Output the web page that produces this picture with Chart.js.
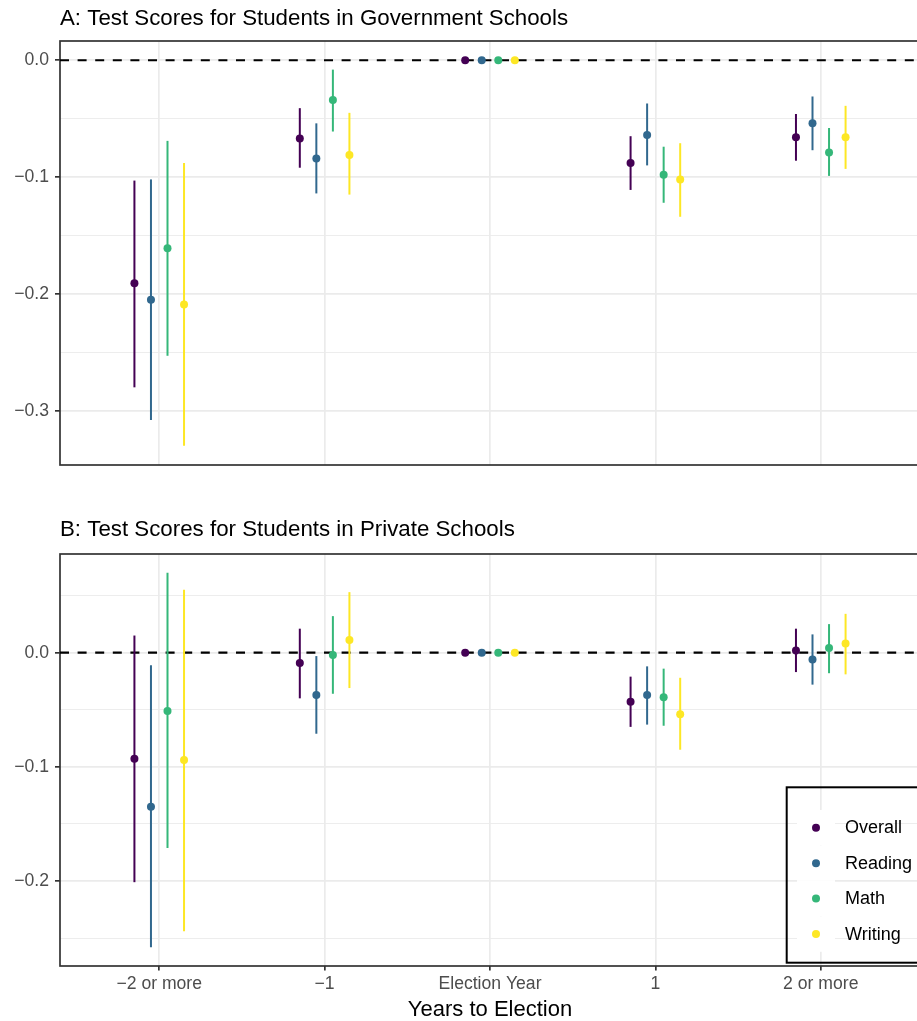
<!DOCTYPE html>
<html>
<head>
<meta charset="utf-8">
<script src="https://cdn.jsdelivr.net/npm/chart.js@4/dist/chart.umd.min.js"></script>
<style>
  html, body { margin: 0; padding: 0; background: #ffffff; overflow: hidden; width: 917px; height: 1021px; }
  canvas { position: absolute; left: 0; }
  #govChart { top: 0; }
  #privChart { top: 500px; }
</style>
</head>
<body>
<canvas id="govChart" width="924" height="485"></canvas>
<canvas id="privChart" width="924" height="523"></canvas>
<script>
// Categories on the x axis and the four outcome series
const categories = ['\u22122 or more', '\u22121', 'Election Year', '1', '2 or more'];
const seriesNames = ['Overall', 'Reading', 'Math', 'Writing'];
const seriesColors = ['#440154', '#31688E', '#35B779', '#FDE725'];

// Y-axis gridline values (labelled majors and unlabelled minors)
const govTicks = [-0.3, -0.25, -0.2, -0.15, -0.1, -0.05, 0];
const privTicks = [-0.25, -0.2, -0.15, -0.1, -0.05, 0, 0.05];

// Panel A: government schools — estimates and 95% interval bounds
const govOverall   = [-0.191, -0.067, 0, -0.088, -0.066];
const govOverallLo = [-0.280, -0.092, null, -0.111, -0.086];
const govOverallHi = [-0.103, -0.041, null, -0.065, -0.046];
const govReading   = [-0.205, -0.084, 0, -0.064, -0.054];
const govReadingLo = [-0.308, -0.114, null, -0.090, -0.077];
const govReadingHi = [-0.102, -0.054, null, -0.037, -0.031];
const govMath      = [-0.161, -0.034, 0, -0.098, -0.079];
const govMathLo    = [-0.253, -0.061, null, -0.122, -0.099];
const govMathHi    = [-0.069, -0.008, null, -0.074, -0.058];
const govWriting   = [-0.209, -0.081, 0, -0.102, -0.066];
const govWritingLo = [-0.330, -0.115, null, -0.134, -0.093];
const govWritingHi = [-0.088, -0.045, null, -0.071, -0.039];

// Panel B: private schools — estimates and 95% interval bounds
const privOverall   = [-0.093, -0.009, 0, -0.043, 0.002];
const privOverallLo = [-0.201, -0.040, null, -0.065, -0.017];
const privOverallHi = [0.015, 0.021, null, -0.021, 0.021];
const privReading   = [-0.135, -0.037, 0, -0.037, -0.006];
const privReadingLo = [-0.258, -0.071, null, -0.063, -0.028];
const privReadingHi = [-0.011, -0.003, null, -0.012, 0.016];
const privMath      = [-0.051, -0.002, 0, -0.039, 0.004];
const privMathLo    = [-0.171, -0.036, null, -0.064, -0.018];
const privMathHi    = [0.070, 0.032, null, -0.014, 0.025];
const privWriting   = [-0.094, 0.011, 0, -0.054, 0.008];
const privWritingLo = [-0.244, -0.031, null, -0.085, -0.019];
const privWritingHi = [0.055, 0.053, null, -0.022, 0.034];

// Horizontal dodge of the four series within each category
const dodge = [-0.15, -0.05, 0.05, 0.15];

const FONT = "'Liberation Sans', Arial, Helvetica, sans-serif";
Chart.defaults.font.family = FONT;
Chart.defaults.animation = false;

function buildDatasets(est, lo, hi) {
  return seriesNames.map((name, s) => ({
    type: 'scatter',
    label: name,
    data: est[s].map((v, i) => ({ x: i + dodge[s], y: v })),
    lo: lo[s],
    hi: hi[s],
    backgroundColor: seriesColors[s],
    borderColor: seriesColors[s],
    pointRadius: 4,
    pointHoverRadius: 4,
    pointBorderWidth: 0
  }));
}

// Range padded by 5% on either side, like a default continuous scale
function paddedRange(est, lo, hi) {
  const all = [].concat(...est, ...lo, ...hi).filter(v => v !== null);
  const mn = Math.min(...all), mx = Math.max(...all);
  const pad = (mx - mn) * 0.05;
  return { min: mn - pad, max: mx + pad };
}

const isMajor = v => Math.abs(v * 10 - Math.round(v * 10)) < 1e-6;
const fmt = v => (v < -1e-9 ? '\u2212' : '') + Math.abs(v).toFixed(1);

// Dashed reference line at zero
const zeroLine = {
  id: 'zeroLine',
  beforeDatasetsDraw(chart) {
    const { ctx, chartArea, scales: { y } } = chart;
    const py = y.getPixelForValue(0);
    ctx.save();
    ctx.strokeStyle = '#000000';
    ctx.lineWidth = 2.1;
    ctx.setLineDash([9, 8.6]);
    ctx.beginPath();
    ctx.moveTo(chartArea.left, py);
    ctx.lineTo(chartArea.right, py);
    ctx.stroke();
    ctx.restore();
  }
};

// Vertical interval lines for each point
const errorBars = {
  id: 'errorBars',
  beforeDatasetsDraw(chart) {
    const { ctx, scales: { x, y } } = chart;
    ctx.save();
    ctx.lineWidth = 2;
    chart.data.datasets.forEach(ds => {
      ctx.strokeStyle = ds.borderColor;
      ds.data.forEach((p, i) => {
        if (ds.lo[i] === null || ds.hi[i] === null) return;
        const px = x.getPixelForValue(p.x);
        ctx.beginPath();
        ctx.moveTo(px, y.getPixelForValue(ds.lo[i]));
        ctx.lineTo(px, y.getPixelForValue(ds.hi[i]));
        ctx.stroke();
      });
    });
    ctx.restore();
  }
};

// Panel border
const panelFrame = {
  id: 'panelFrame',
  beforeDatasetsDraw(chart) {
    const { ctx, chartArea: a } = chart;
    ctx.save();
    ctx.strokeStyle = '#333333';
    ctx.lineWidth = 1.7;
    ctx.strokeRect(a.left, a.top, a.right - a.left, a.bottom - a.top);
    ctx.restore();
  }
};

// Legend box drawn inside the lower-right of the bottom panel
const insetLegend = {
  id: 'insetLegend',
  afterDraw(chart) {
    const { ctx } = chart;
    const boxLeft = 786.7, boxTop = 287.3, boxBottom = 462.7, boxRight = 960;
    const keyLeft = 797, keyW = 38, rowH = 35.45, firstRow = 327.7;
    ctx.save();
    chart.data.datasets.forEach((ds, i) => {
      const cy = firstRow + i * rowH;
      ctx.fillStyle = '#ffffff';
      ctx.fillRect(keyLeft, cy - rowH / 2, keyW, rowH);
      ctx.fillStyle = ds.backgroundColor;
      ctx.beginPath();
      ctx.arc(keyLeft + keyW / 2, cy, 4, 0, Math.PI * 2);
      ctx.fill();
      ctx.fillStyle = '#000000';
      ctx.font = '18px ' + FONT;
      ctx.textAlign = 'left';
      ctx.textBaseline = 'middle';
      ctx.fillText(ds.label, 845, cy + 0.5);
    });
    ctx.strokeStyle = '#000000';
    ctx.lineWidth = 2;
    ctx.strokeRect(boxLeft, boxTop, boxRight - boxLeft, boxBottom - boxTop);
    ctx.restore();
  }
};

function yScale(range, tickVals) {
  return {
    type: 'linear',
    min: range.min,
    max: range.max,
    afterFit(s) { s.width = 60; },
    afterBuildTicks(s) { s.ticks = tickVals.map(v => ({ value: v })); },
    ticks: {
      autoSkip: false,
      padding: 6,
      color: '#4D4D4D',
      font: { size: 17.6 },
      callback: v => (isMajor(v) ? fmt(v) : '')
    },
    grid: {
      color: '#EBEBEB',
      lineWidth: c => (c.tick && isMajor(c.tick.value) ? 1.7 : 0.9),
      tickLength: 5,
      tickWidth: 1.7,
      tickColor: c => (c.tick && isMajor(c.tick.value) ? '#333333' : 'rgba(0,0,0,0)')
    },
    border: { display: false }
  };
}

function xScale(showAxis) {
  const base = {
    type: 'linear',
    min: -0.6,
    max: categories.length - 1 + 0.6,
    afterBuildTicks(s) { s.ticks = categories.map((c, i) => ({ value: i })); },
    border: { display: false }
  };
  if (!showAxis) {
    return Object.assign(base, {
      afterFit(s) { s.height = 20; },
      ticks: { display: false },
      grid: { color: '#EBEBEB', lineWidth: 1.7, drawTicks: false }
    });
  }
  return Object.assign(base, {
    afterFit(s) { s.height = 57; },
    ticks: {
      autoSkip: false,
      maxRotation: 0,
      padding: 3.4,
      color: '#4D4D4D',
      font: { size: 17.6 },
      callback: v => categories[Math.round(v)]
    },
    grid: { color: '#EBEBEB', lineWidth: 1.7, tickLength: 4.5, tickWidth: 1.7, tickColor: '#333333' },
    title: { display: true, text: 'Years to Election', color: '#000000', font: { size: 22 }, padding: 0 }
  });
}

function makeChart(id, titleText, titlePad, est, lo, hi, tickVals, showAxis, extraPlugins) {
  return new Chart(document.getElementById(id), {
    type: 'scatter',
    data: { datasets: buildDatasets(est, lo, hi) },
    options: {
      responsive: false,
      devicePixelRatio: 1,
      layout: { padding: { left: 0, right: 1, top: 0, bottom: 0 } },
      scales: { x: xScale(showAxis), y: yScale(paddedRange(est, lo, hi), tickVals) },
      plugins: {
        legend: { display: false },
        tooltip: { enabled: false },
        title: {
          display: true,
          text: titleText,
          align: 'start',
          fullSize: false,
          color: '#000000',
          font: { size: 22.3, weight: 'normal' },
          padding: titlePad
        }
      }
    },
    plugins: [panelFrame, zeroLine, errorBars].concat(extraPlugins)
  });
}

makeChart('govChart', 'A: Test Scores for Students in Government Schools', { top: 5.2, bottom: 9.04 },
  [govOverall, govReading, govMath, govWriting],
  [govOverallLo, govReadingLo, govMathLo, govWritingLo],
  [govOverallHi, govReadingHi, govMathHi, govWritingHi],
  govTicks, false, []);

makeChart('privChart', 'B: Test Scores for Students in Private Schools', { top: 16.4, bottom: 10.84 },
  [privOverall, privReading, privMath, privWriting],
  [privOverallLo, privReadingLo, privMathLo, privWritingLo],
  [privOverallHi, privReadingHi, privMathHi, privWritingHi],
  privTicks, true, [insetLegend]);
</script>
</body>
</html>
